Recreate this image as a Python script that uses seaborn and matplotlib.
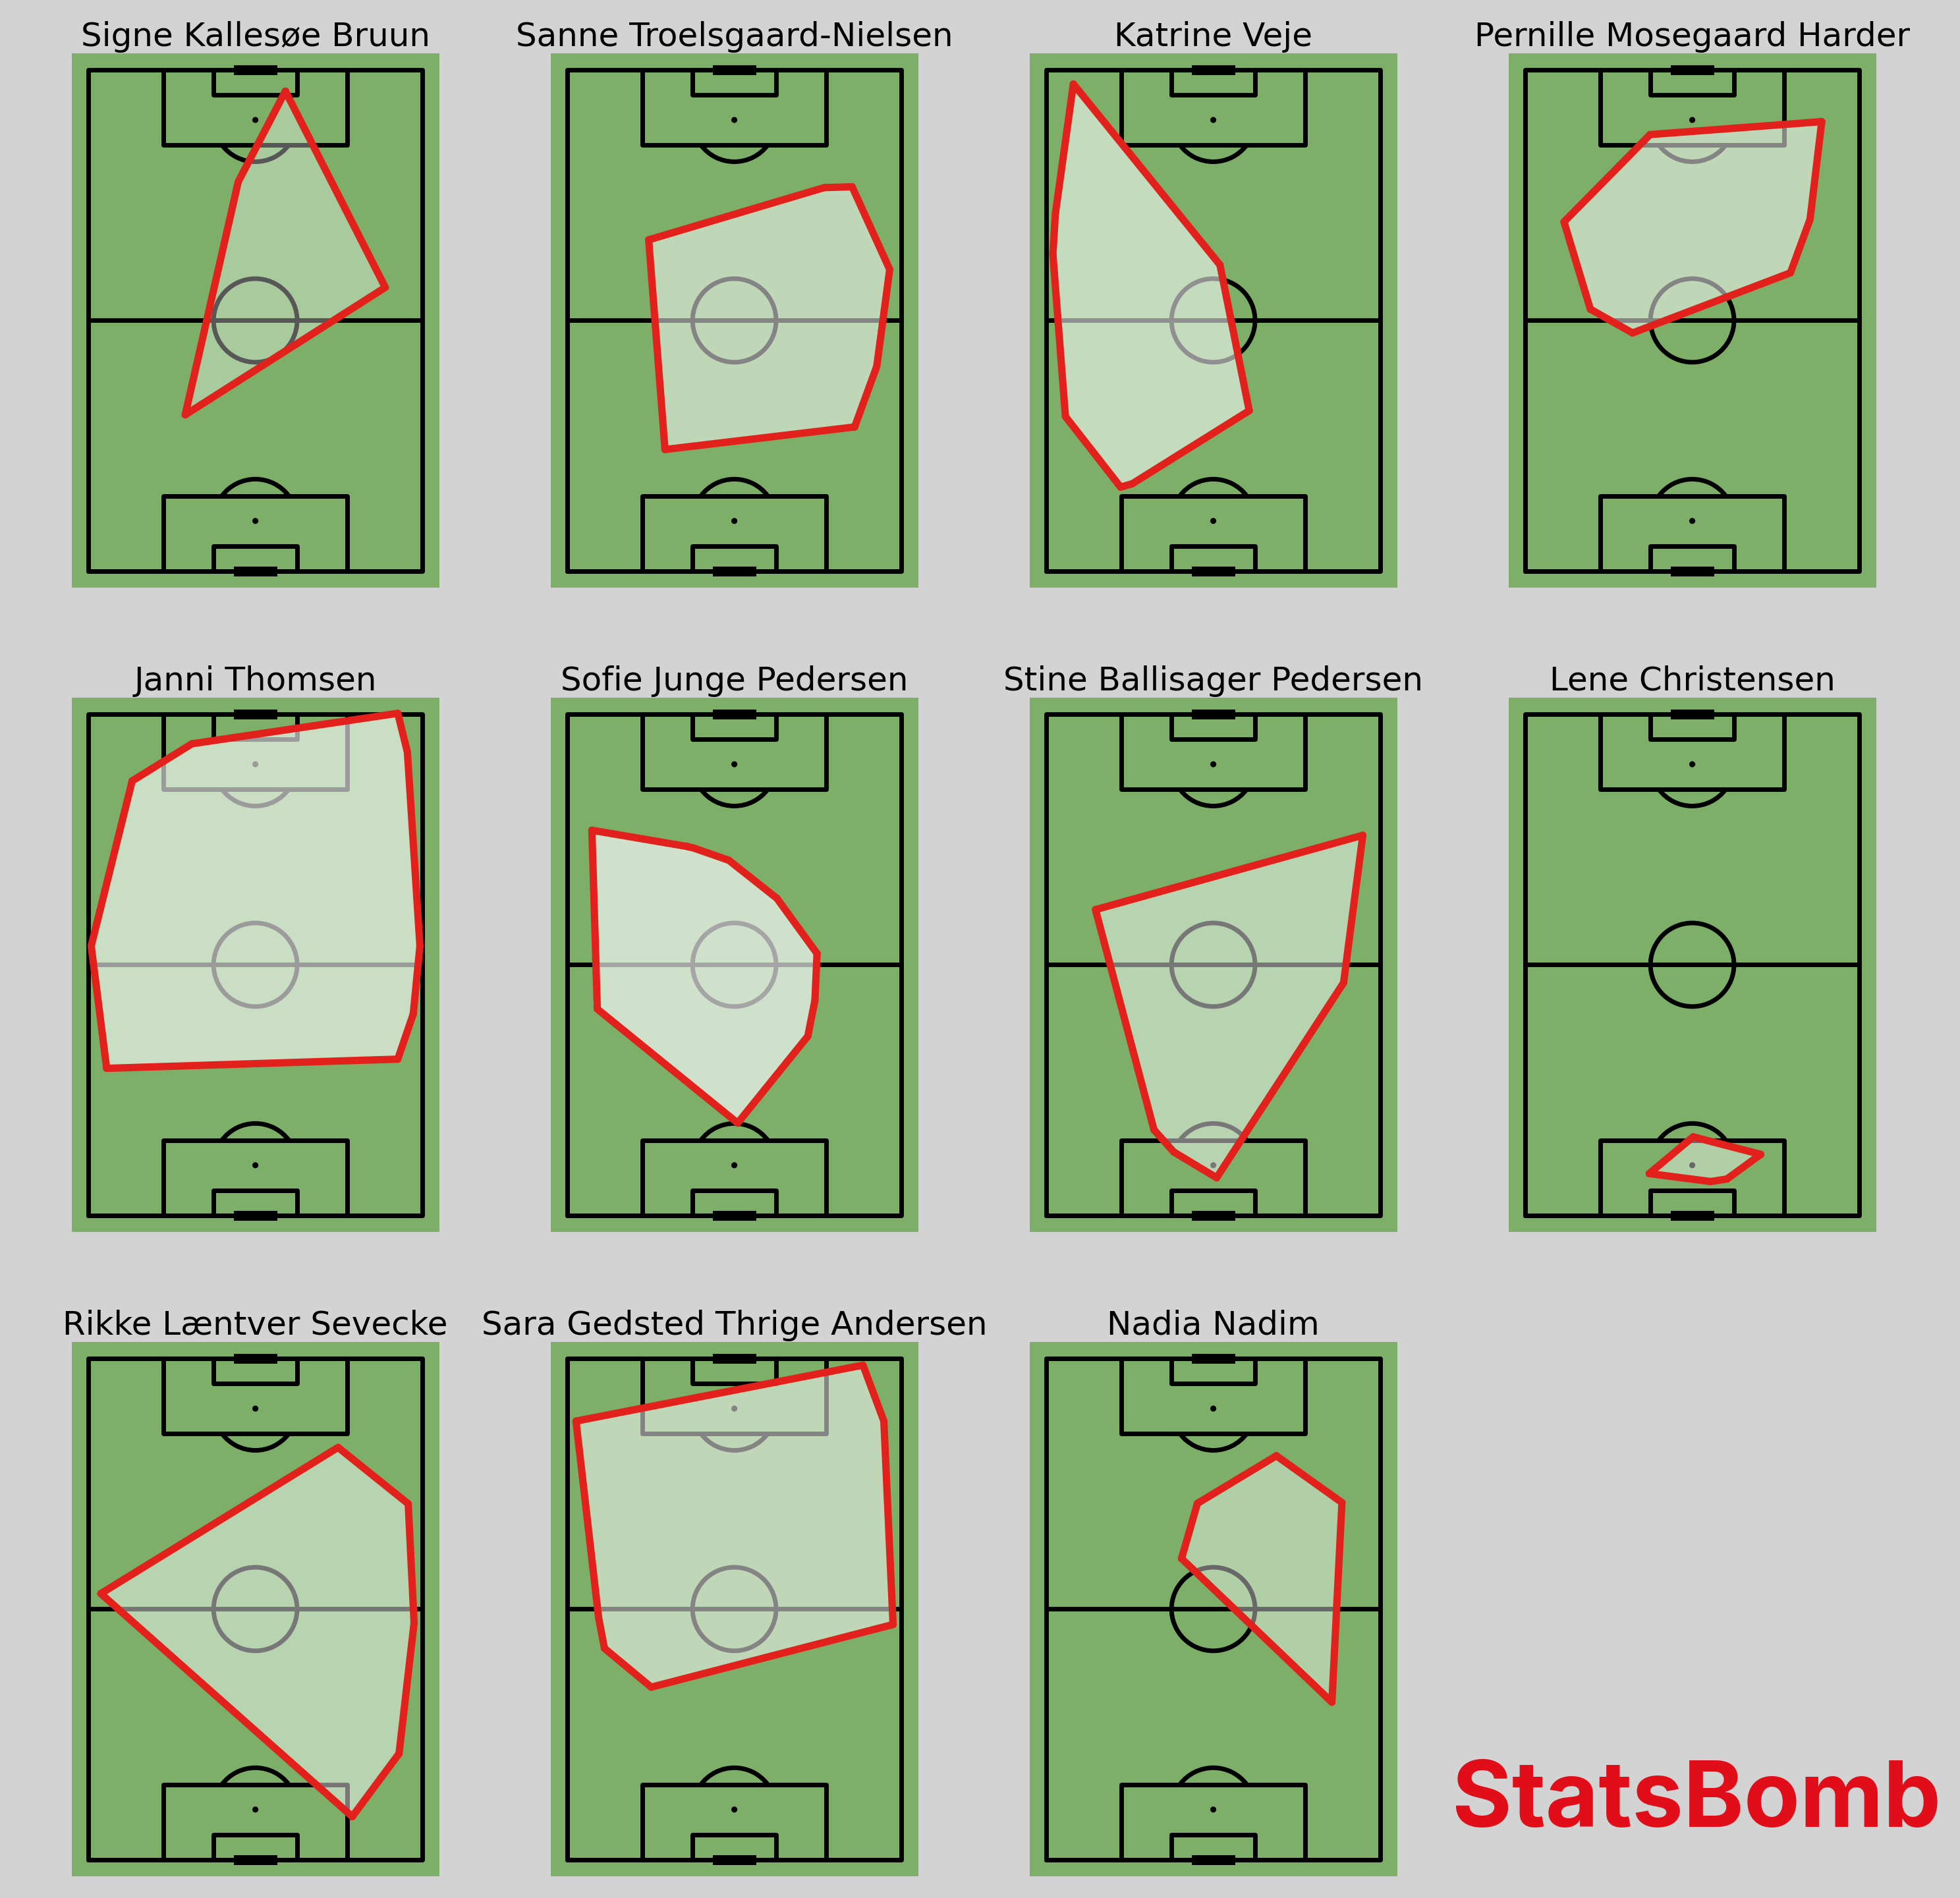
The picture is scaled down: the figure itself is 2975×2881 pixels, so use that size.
import seaborn as sns
import matplotlib.pyplot as plt
import pandas as pd
import numpy as np
from matplotlib.patches import Circle, Arc

sns.set_theme(style="white")
plt.rcParams["font.family"] = ["DejaVu Sans"]
plt.rcParams["text.color"] = "black"

# Convex hull of each player's actions
# across = 0..80 (left to right), up = 0..120 (own goal at bottom)
players = ["Signe Kallesøe Bruun", "Sanne Troelsgaard-Nielsen", "Katrine Veje",
           "Pernille Mosegaard Harder", "Janni Thomsen", "Sofie Junge Pedersen",
           "Stine Ballisager Pedersen", "Lene Christensen", "Rikke Læntver Sevecke",
           "Sara Gedsted Thrige Andersen", "Nadia Nadim"]

hull_across = [
    [47.2, 71.1, 23.2, 35.9],
    [19.5, 61.5, 68.2, 77.2, 74.1, 68.8, 23.4],
    [6.5, 41.6, 48.6, 20.6, 17.8, 4.6, 1.6, 2.2],
    [29.9, 71.0, 68.2, 63.5, 25.7, 15.6, 9.3],
    [0.7, 10.5, 24.8, 74.1, 76.4, 79.4, 77.8, 74.1, 4.4],
    [5.9, 28.8, 30.4, 38.7, 50.2, 59.8, 59.3, 57.6, 40.8, 7.2],
    [11.8, 75.8, 71.2, 40.8, 30.5, 25.8],
    [40.2, 56.4, 48.3, 44.4, 29.7],
    [3.0, 59.8, 76.6, 78.0, 74.4, 63.2],
    [2.1, 70.8, 75.8, 78.0, 20.1, 8.9, 7.5],
    [36.2, 55.1, 70.8, 68.4, 32.4],
]
hull_up = [
    [114.9, 67.9, 37.4, 93.2],
    [79.3, 91.8, 92.0, 72.2, 49.0, 34.5, 29.1],
    [116.6, 73.3, 38.4, 20.9, 20.1, 37.0, 75.9, 85.6],
    [104.5, 107.6, 84.2, 71.4, 57.0, 62.7, 83.6],
    [64.5, 104.0, 112.9, 120.2, 110.9, 64.5, 48.2, 37.4, 35.2],
    [92.2, 88.3, 87.9, 85.0, 75.9, 62.7, 51.5, 42.9, 22.1, 49.4],
    [73.2, 91.0, 55.7, 9.0, 15.2, 20.5],
    [18.8, 14.6, 8.7, 8.1, 10.0],
    [63.7, 98.7, 85.2, 56.7, 25.4, 10.3],
    [105.0, 118.4, 105.0, 56.3, 41.3, 50.6, 58.0],
    [85.3, 96.7, 85.5, 37.7, 72.1],
]

BG = "#d3d3d3"
PITCH = "#7eaf69"
LINE = "black"
HULL = "#e2211c"
LW = 2.5
DPI = 200
W, H = 2975, 2881


def draw_pitch(ax):
    ax.set_facecolor(PITCH)
    kw = dict(color=LINE, lw=LW, zorder=1, solid_capstyle="round", solid_joinstyle="round")
    ax.plot([0, 80, 80, 0, 0], [0, 0, 120, 120, 0], **kw)
    ax.plot([0, 80], [60, 60], **kw)
    for g, s in [(0, 1), (120, -1)]:
        ax.plot([18, 18, 62, 62], [g, g + 18 * s, g + 18 * s, g], **kw)
        ax.plot([30, 30, 50, 50], [g, g + 6 * s, g + 6 * s, g], **kw)
        ax.plot([36, 44], [g, g], color=LINE, lw=5.4, solid_capstyle="projecting", zorder=1)
        ax.add_patch(Circle((40, g + 12 * s), 0.5, color=LINE, zorder=1))
        t1, t2 = (36.87, 143.13) if s == 1 else (216.87, 323.13)
        ax.add_patch(Arc((40, g + 12 * s), 20, 20, theta1=t1, theta2=t2,
                         color=LINE, lw=LW, zorder=1))
    ax.add_patch(Circle((40, 60), 10, fill=False, ec=LINE, lw=LW, zorder=1))
    ax.set_xlim(-4, 84)
    ax.set_ylim(-4, 124)
    ax.set_xticks([])
    ax.set_yticks([])
    for sp in ax.spines.values():
        sp.set_visible(False)


fig = plt.figure(figsize=(W / DPI, H / DPI), dpi=DPI, facecolor=BG)

scale = 6.34  # pixels per pitch unit
for i, name in enumerate(players):
    r, c = divmod(i, 4)
    left = 134 - 4 * scale + c * 727
    top = 106 - 4 * scale + r * 978
    aw, ah = 88 * scale, 128 * scale
    ax = fig.add_axes([left / W, 1 - (top + ah) / H, aw / W, ah / H])
    draw_pitch(ax)

    xs = np.array(hull_across[i])
    ys = np.array(hull_up[i])
    n = len(xs)
    rows = []
    for k in range(n):
        j = (k + 1) % n
        rows.append((xs[k], ys[k], k))
        rows.append((xs[j], ys[j], k))
        ax.fill(xs, ys, color="white", alpha=0.1, zorder=2, lw=0)
    seg = pd.DataFrame(rows, columns=["across", "up", "edge"])
    sns.lineplot(data=seg, x="across", y="up", units="edge", estimator=None, sort=False,
                 color=HULL, lw=4, ax=ax, legend=False, zorder=3)
    ax.set_xlabel("")
    ax.set_ylabel("")
    ax.set_title(name, fontsize=18, pad=4, color="black")

fig.text(2946 / W, 1 - 2773 / H, "StatsBomb", ha="right", va="baseline",
         fontsize=50, fontweight="bold", family=["Inter", "DejaVu Sans"], color="#e10d18")

fig.savefig("out.png", dpi=DPI, facecolor=BG)
plt.close(fig)
